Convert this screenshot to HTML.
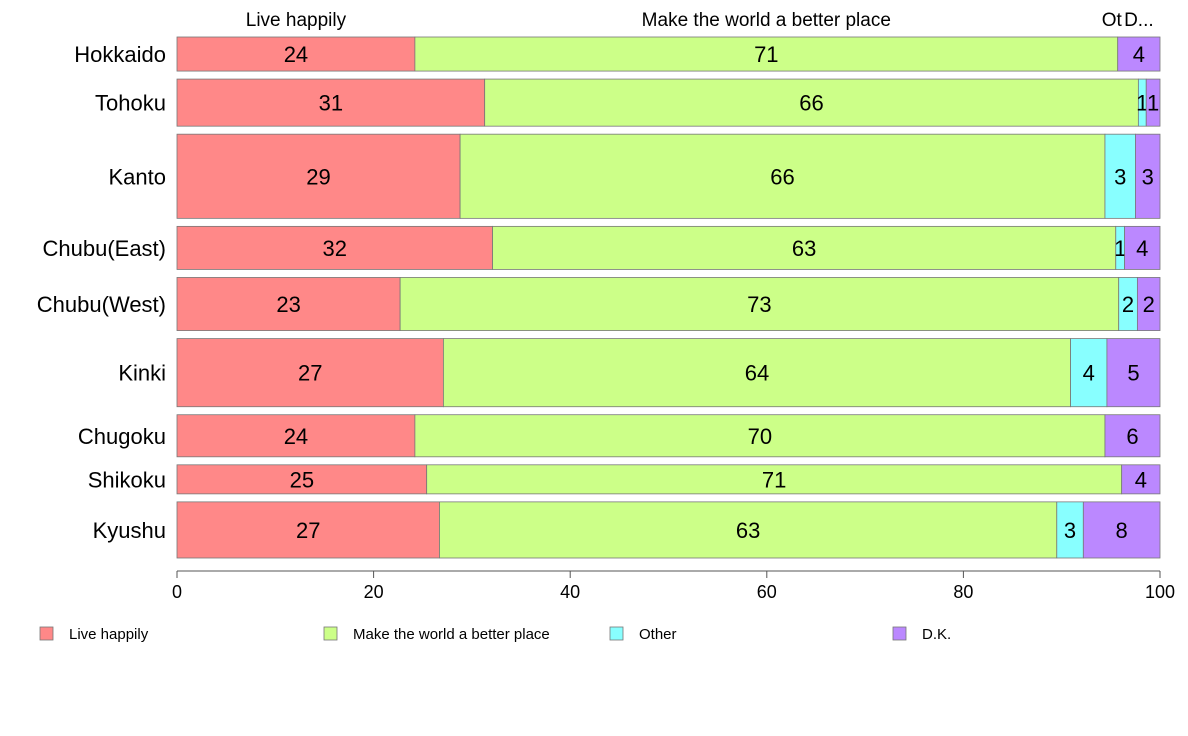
<!DOCTYPE html>
<html><head><meta charset="utf-8"><style>
html,body{margin:0;padding:0;background:#fff;}
svg{display:block;font-family:"Liberation Sans",Arial,sans-serif;}
</style></head><body>
<svg id="chart" width="1188" height="736" viewBox="0 0 1188 736"></svg>
<script>
const regions=["Hokkaido","Tohoku","Kanto","Chubu(East)","Chubu(West)","Kinki","Chugoku","Shikoku","Kyushu"];
const sampleWeights=[34,47,84,43,53,68,42,29,56];
const liveHappily=[24.2,31.3,28.8,32.1,22.7,27.1,24.2,25.4,26.7];
const betterPlace=[71.5,66.5,65.6,63.4,73.1,63.8,70.2,70.7,62.8];
const other=[0,0.8,3.1,0.9,1.9,3.7,0,0,2.7];
const dontKnow=[4.3,1.4,2.5,3.6,2.3,5.4,5.6,3.9,7.8];
const liveLabels=["24","31","29","32","23","27","24","25","27"];
const betterLabels=["71","66","66","63","73","64","70","71","63"];
const otherLabels=["","1","3","1","2","4","","","3"];
const dkLabels=["4","1","3","4","2","5","6","4","8"];
const seriesNames=["Live happily","Make the world a better place","Other","D.K."];
const topLabels=["Live happily","Make the world a better place","Ot","D..."];
const xTicks=[0,20,40,60,80,100];
const colors=["#ff8888","#ccff88","#88ffff","#bb88ff"];
const NS="http://www.w3.org/2000/svg";
const svg=document.getElementById("chart");
const x0=177,x1=1160,yTop=37,yBot=558,gap=8;
const xs=v=>x0+(x1-x0)*v/100;
function mk(t,a,p){const e=document.createElementNS(NS,t);for(const k in a)e.setAttribute(k,a[k]);(p||svg).appendChild(e);return e;}
const series=[liveHappily,betterPlace,other,dontKnow];
const labels=[liveLabels,betterLabels,otherLabels,dkLabels];
const totalW=sampleWeights.reduce((a,b)=>a+b,0);
const avail=(yBot-yTop)-gap*(regions.length-1);
let y=yTop;
regions.forEach((r,i)=>{
  const h=avail*sampleWeights[i]/totalW;
  const g=mk("g",{});
  
  
  const lab=mk("text",{x:166,y:y+h/2+8,"text-anchor":"end","font-size":22,fill:"#000"},g);
  lab.textContent=r;
  
  
  let cum=0;
  series.forEach((s,j)=>{
    const v=s[i];
    const xa=xs(cum),xb=xs(cum+v);
    if(v>0){
      const rect=mk("rect",{x:xa,y:y,width:xb-xa,height:h,fill:colors[j],stroke:"#777","stroke-width":0.8},g);
      
      
      if(labels[j][i]){
        const t=mk("text",{x:(xa+xb)/2,y:y+h/2+8,"text-anchor":"middle","font-size":22,fill:"#000"},g);
        t.textContent=labels[j][i];
        
        
      }
    }
    if(i===0){
      const tt=mk("text",{x:(xa+xb)/2+(j===2?-6:0),y:26,"text-anchor":"middle","font-size":19,fill:"#000"});
      tt.textContent=topLabels[j];
      
      
    }
    cum+=v;
  });
  y+=h+gap;
});
// axis
const ax=mk("line",{x1:x0,x2:x1,y1:571,y2:571,stroke:"#555","stroke-width":1});


xTicks.forEach(v=>{
  const tk=mk("line",{x1:xs(v),x2:xs(v),y1:571,y2:578,stroke:"#555","stroke-width":1});
  
  
  const tl=mk("text",{x:xs(v),y:598,"text-anchor":"middle","font-size":18,fill:"#000"});
  tl.textContent=v;
  
  
});
// legend
const legX=[40,324,610,893];
seriesNames.forEach((n,j)=>{
  const g=mk("g",{});
  
  
  mk("rect",{x:legX[j],y:627,width:13,height:13,fill:colors[j],stroke:"#777","stroke-width":0.8},g);
  const t=mk("text",{x:legX[j]+29,y:639,"font-size":15,fill:"#000"},g);
  t.textContent=n;
});
</script>
</body></html>
